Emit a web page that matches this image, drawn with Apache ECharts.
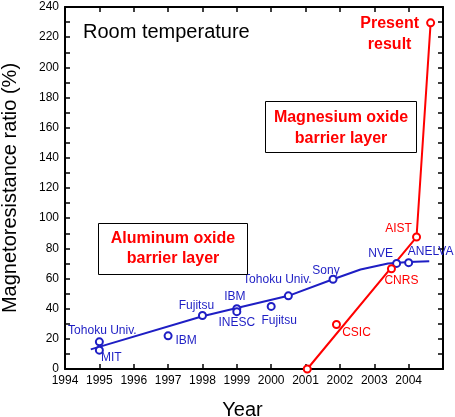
<!DOCTYPE html>
<html>
<head>
<meta charset="utf-8">
<script src="https://cdn.jsdelivr.net/npm/echarts@6/dist/echarts.min.js"></script>
<style>
html,body{margin:0;padding:0;background:#fff;}
#chart{width:455px;height:417px;}
</style>
</head>
<body>
<div id="chart"></div>
<script>
// ---- Data ----
const yearTicks = [1994,1995,1996,1997,1998,1999,2000,2001,2002,2003,2004];
const mrTicks = [0,20,40,60,80,100,120,140,160,180,200,220,240];

// Aluminum oxide barrier (blue)
const blueYears  = [1995, 1995, 1997, 1998, 1999, 1999, 2000, 2000.5, 2001.8, 2003.65, 2004];
const blueMR     = [18, 12.5, 22, 35.5, 40, 38, 41.5, 48.5, 59.5, 70, 70.5];
const blueLabels = ['Tohoku Univ.', 'MIT', 'IBM', 'Fujitsu', 'IBM', 'INESC', 'Fujitsu', 'Tohoku Univ.', 'Sony', 'NVE', 'ANELVA'];
const blueFitYears = [1994.75, 1998, 1999, 2000.5, 2001.8, 2002.6, 2003.4, 2004, 2004.6];
const blueFitMR    = [13, 35, 40.5, 48.5, 59.5, 66, 70, 71, 71.5];

// Magnesium oxide barrier (red)
const redYears  = [2001.05, 2001.9, 2003.5, 2004.23, 2004.64];
const redMR     = [0, 29.5, 66.5, 87.5, 229.5];
const redLabels = ['', 'CSIC', 'CNRS', 'AIST', 'Present\nresult'];
const redFitYears = [2001.05, 2004.23, 2004.64];
const redFitMR    = [0, 87.5, 229.5];

// ---- Styling / layout ----
const BLUE = '#1e1ec4';
const RED = '#ff0000';
const FONT = 'Liberation Sans, Arial, sans-serif';
const blueOffsets = [[3,-11],[12,7.5],[18,5],[-6,-10],[-2,-12],[0,11],[8,14],[-11,-16],[-7,-9],[-16,-10],[22,-11]];
const redOffsets  = [[0,0],[20,8],[10,12],[-18,-8],[-41,11.5]];

function zip(xs, ys){ return xs.map((x,i)=>[x, ys[i]]); }

const blueScatter = blueYears.map((x,i)=>({
  value:[x, blueMR[i]],
  label:{show:true, formatter:blueLabels[i], position:'inside', offset:blueOffsets[i],
         color:BLUE, fontSize:12, fontFamily:FONT, textBorderWidth:0, textBorderColor:'transparent', opacity:1}
}));
const redScatter = redYears.map((x,i)=>{
  const isPresent = i === redYears.length-1;
  return {
    value:[x, redMR[i]],
    label:{show: redLabels[i] !== '', formatter:redLabels[i], position:'inside', offset:redOffsets[i],
           color:RED, fontSize: isPresent?16:12, fontWeight: isPresent?'bold':'normal',
           lineHeight: isPresent?21:14, align:'center', fontFamily:FONT,
           textBorderWidth:0, textBorderColor:'transparent', opacity:1}
  };
});

const axisCommon = {
  axisLine:{show:true, onZero:false, lineStyle:{color:'#000', width:2}},
  axisTick:{show:true, inside:true, length:5, lineStyle:{color:'#000', width:1.5}},
  splitLine:{show:false},
};

const chart = echarts.init(document.getElementById('chart'), null, {renderer:'canvas'});
const option = {
  animation:false,
  backgroundColor:'#fff',
  grid:{left:65, right:12, top:7, bottom:48, containLabel:false, outerBoundsMode:'none'},
  xAxis:[
    Object.assign({}, axisCommon, {
      type:'value', min:1994, max:2005, interval:1, position:'bottom',
      axisLabel:{color:'#000', fontSize:12, fontFamily:FONT, margin:6,
        formatter:(v)=> yearTicks.indexOf(v) >= 0 ? String(v) : ''},
      name:'Year', nameLocation:'middle', nameGap:31,
      nameTextStyle:{color:'#000', fontSize:20, fontFamily:FONT, padding:[0,23,0,0]}
    }),
    Object.assign({}, axisCommon, {
      type:'value', min:1994, max:2005, interval:1, position:'top',
      axisLabel:{show:false}
    })
  ],
  yAxis:[
    Object.assign({}, axisCommon, {
      type:'value', min:0, max:240, interval:20, position:'left',
      minorTick:{show:true, splitNumber:2, length:5, lineStyle:{color:'#000', width:1.5}},
      axisLabel:{color:'#000', fontSize:12, fontFamily:FONT, margin:6,
        formatter:(v)=> mrTicks.indexOf(v) >= 0 ? String(v) : ''},
      name:'Magnetoresistance ratio (%)', nameLocation:'middle', nameGap:45,
      nameTextStyle:{color:'#000', fontSize:20, fontFamily:FONT}
    }),
    Object.assign({}, axisCommon, {
      type:'value', min:0, max:240, interval:20, position:'right',
      minorTick:{show:true, splitNumber:2, length:5, lineStyle:{color:'#000', width:1.5}},
      axisLabel:{show:false}
    })
  ],
  series:[
    {type:'line', data:zip(blueFitYears, blueFitMR), showSymbol:false, symbol:'none',
     lineStyle:{color:BLUE, width:2}, z:2},
    {type:'line', data:zip(redFitYears, redFitMR), showSymbol:false, symbol:'none',
     lineStyle:{color:RED, width:2}, z:2},
    {type:'scatter', data:blueScatter, symbol:'circle', symbolSize:7,
     itemStyle:{color:'#fff', borderColor:BLUE, borderWidth:2, opacity:1}, z:3},
    {type:'scatter', data:redScatter, symbol:'circle', symbolSize:7,
     itemStyle:{color:'#fff', borderColor:RED, borderWidth:2, opacity:1}, z:4}
  ],
  graphic:[
    {type:'text', left:83, top:22, style:{text:'Room temperature', fill:'#000', fontSize:20, fontFamily:FONT}},
    {type:'rect', shape:{x:98.5, y:223.5, width:149, height:51}, style:{fill:'#fff', stroke:'#000', lineWidth:1}, z:10},
    {type:'text', x:173, y:249, z:11, style:{text:'Aluminum oxide\nbarrier layer', fill:RED, fontSize:16, fontWeight:'bold',
      fontFamily:FONT, align:'center', verticalAlign:'middle', lineHeight:20}},
    {type:'rect', shape:{x:265.5, y:101.5, width:151, height:51}, style:{fill:'#fff', stroke:'#000', lineWidth:1}, z:10},
    {type:'text', x:341, y:128, z:11, style:{text:'Magnesium oxide\nbarrier layer', fill:RED, fontSize:16, fontWeight:'bold',
      fontFamily:FONT, align:'center', verticalAlign:'middle', lineHeight:21}}
  ]
};
chart.setOption(option);
</script>
</body>
</html>
